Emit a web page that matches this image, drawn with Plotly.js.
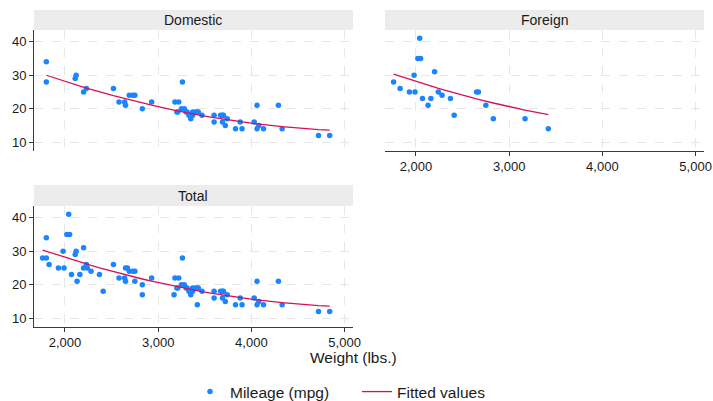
<!DOCTYPE html>
<html>
<head>
<meta charset="utf-8">
<script src="https://cdn.plot.ly/plotly-3.0.1.min.js"></script>
<style>html,body{margin:0;padding:0;background:#fff;}#chart{width:713px;height:401px;}</style>
</head>
<body>
<div id="chart"></div>
<script>
// Domestic cars: weight (lbs.), mileage (mpg), fitted values
const weightDomestic = [2930,3350,2640,3250,4080,3670,2230,3280,3880,3400,4330,3900,4290,2110,3690,3180,3220,2750,3430,2120,3600,3600,3740,1800,2650,4840,4720,3830,2580,4060,3720,3370,4130,2830,4060,3310,3300,3690,3370,2730,4030,3260,1800,2200,2520,3330,3700,3470,3210,3200,3420,2690];
const mpgDomestic = [22,17,22,20,15,18,26,20,16,19,14,14,21,29,16,22,22,24,19,30,18,16,17,28,21,12,12,14,22,14,15,18,14,20,21,19,19,18,19,24,16,28,34,25,26,18,18,18,19,19,19,24];
const fitDomestic = [21.03,18.57,23.01,19.11,15.39,17.00,26.17,18.95,16.12,18.30,14.63,16.04,14.74,27.19,16.91,19.51,19.28,22.23,18.15,27.10,17.32,17.32,16.70,29.98,22.93,13.58,13.76,16.32,23.44,15.46,16.78,18.46,15.23,21.69,15.46,18.78,18.84,16.91,18.46,22.37,15.56,19.06,29.98,26.42,23.89,18.67,16.87,17.95,19.34,19.39,18.20,22.65];
// Foreign cars
const weightForeign = [2830,2070,2650,2370,2020,2280,2750,2130,2240,1760,1980,3420,1830,2050,2410,2200,2670,2160,2040,1930,1990,3170];
const mpgForeign = [17,23,25,23,35,24,21,21,25,28,30,14,26,35,18,31,25,23,41,25,25,17];
const fitForeign = [21.69,27.53,22.93,25.04,27.97,25.76,22.23,27.01,26.09,30.35,28.32,18.20,29.69,27.71,24.73,26.42,22.79,26.76,27.79,28.77,28.24,19.57];

const panelTitles = ['Domestic', 'Foreign', 'Total'];
const xTickVals = [2000, 3000, 4000, 5000];
const xTickText = ['2,000', '3,000', '4,000', '5,000'];
const yTickVals = [10, 20, 30, 40];
const yTickText = ['10', '20', '30', '40'];
const xTitle = 'Weight (lbs.)';
const seriesNames = ['Mileage (mpg)', 'Fitted values'];

const weightTotal = weightDomestic.concat(weightForeign);
const mpgTotal = mpgDomestic.concat(mpgForeign);
const fitTotal = fitDomestic.concat(fitForeign);

const dotColor = '#1a85ff';
const lineColor = '#d41159';
const W = 713, H = 401;

function sortedLine(xs, ys) {
  const idx = xs.map((v, i) => i).sort((a, b) => xs[a] - xs[b]);
  return {x: idx.map(i => xs[i]), y: idx.map(i => ys[i])};
}

const panels = [
  {w: weightDomestic, m: mpgDomestic, f: fitDomestic, xa: 'x', ya: 'y'},
  {w: weightForeign, m: mpgForeign, f: fitForeign, xa: 'x2', ya: 'y2'},
  {w: weightTotal, m: mpgTotal, f: fitTotal, xa: 'x3', ya: 'y3'}
];

const data = [];
panels.forEach((p, k) => {
  data.push({
    type: 'scatter', mode: 'markers', x: p.w, y: p.m, xaxis: p.xa, yaxis: p.ya,
    name: seriesNames[0], legendgroup: 'a', showlegend: k === 0,
    marker: {color: dotColor, size: 5.5}, hoverinfo: 'x+y'
  });
});
panels.forEach((p, k) => {
  const s = sortedLine(p.w, p.f);
  data.push({
    type: 'scatter', mode: 'lines', x: s.x, y: s.y, xaxis: p.xa, yaxis: p.ya,
    name: seriesNames[1], legendgroup: 'b', showlegend: k === 0,
    line: {color: lineColor, width: 1.3}, hoverinfo: 'x+y'
  });
});

const gridColor = '#e6e6e6';
const axisColor = '#3a3a3a';
const xRange = [1668, 5090];
const yRange = [7.5, 43.5];

function xAxis(px0, px1, showLabels, anchor) {
  return {
    domain: [px0 / W, px1 / W], range: xRange, anchor: anchor,
    tickvals: xTickVals, ticktext: xTickText,
    showticklabels: showLabels, ticks: showLabels ? 'outside' : '', ticklen: 4, tickcolor: axisColor,
    showline: showLabels, linecolor: axisColor, linewidth: 1,
    showgrid: true, gridcolor: gridColor, griddash: 'dash', gridwidth: 1,
    zeroline: false, tickfont: {size: 13}
  };
}
function yAxis(top, bottom, showLabels, anchor) {
  return {
    domain: [1 - bottom / H, 1 - top / H], range: yRange, anchor: anchor,
    tickvals: yTickVals, ticktext: yTickText,
    showticklabels: showLabels, ticks: showLabels ? 'outside' : '', ticklen: 4, tickcolor: axisColor,
    showline: showLabels, linecolor: axisColor, linewidth: 1,
    showgrid: true, gridcolor: gridColor, griddash: 'dash', gridwidth: 1,
    zeroline: false, tickfont: {size: 13}
  };
}

const layout = {
  width: W, height: H,
  margin: {l: 0, r: 0, t: 0, b: 0, autoexpand: false},
  paper_bgcolor: '#ffffff', plot_bgcolor: '#ffffff',
  font: {family: 'Liberation Sans, Arial, sans-serif', color: '#1a1a1a', size: 13},
  xaxis: xAxis(34, 353, false, 'y'),
  yaxis: yAxis(30, 150.5, true, 'x'),
  xaxis2: xAxis(385, 704, true, 'y2'),
  yaxis2: yAxis(30, 150.5, false, 'x2'),
  xaxis3: xAxis(34, 353, true, 'y3'),
  yaxis3: yAxis(206, 326.5, true, 'x3'),
  shapes: [
    {type: 'rect', xref: 'paper', yref: 'paper', x0: 34 / W, x1: 353 / W, y0: 1 - 30 / H, y1: 1 - 10 / H, fillcolor: '#ececec', line: {width: 0}, layer: 'below'},
    {type: 'rect', xref: 'paper', yref: 'paper', x0: 385 / W, x1: 704 / W, y0: 1 - 30 / H, y1: 1 - 10 / H, fillcolor: '#ececec', line: {width: 0}, layer: 'below'},
    {type: 'rect', xref: 'paper', yref: 'paper', x0: 34 / W, x1: 353 / W, y0: 1 - 206 / H, y1: 1 - 185 / H, fillcolor: '#ececec', line: {width: 0}, layer: 'below'}
  ],
  annotations: [
    {text: panelTitles[0], xref: 'paper', yref: 'paper', x: 193.5 / W, y: 1 - 20 / H, showarrow: false, xanchor: 'center', yanchor: 'middle', font: {size: 14}},
    {text: panelTitles[1], xref: 'paper', yref: 'paper', x: 544.5 / W, y: 1 - 20 / H, showarrow: false, xanchor: 'center', yanchor: 'middle', font: {size: 14}},
    {text: panelTitles[2], xref: 'paper', yref: 'paper', x: 193.5 / W, y: 1 - 195.5 / H, showarrow: false, xanchor: 'center', yanchor: 'middle', font: {size: 14}},
    {text: xTitle, xref: 'paper', yref: 'paper', x: 353 / W, y: 1 - 357 / H, showarrow: false, xanchor: 'center', yanchor: 'middle', font: {size: 15.5}}
  ],
  showlegend: true,
  legend: {
    orientation: 'h', x: 190 / W, xanchor: 'left', y: 1 - 375 / H, yanchor: 'top',
    font: {size: 15.5}, itemwidth: 30, entrywidth: 122, entrywidthmode: 'pixels',
    bgcolor: 'rgba(0,0,0,0)', traceorder: 'normal'
  }
};

Plotly.newPlot('chart', data, layout, {displayModeBar: false, staticPlot: true});
</script>
</body>
</html>
